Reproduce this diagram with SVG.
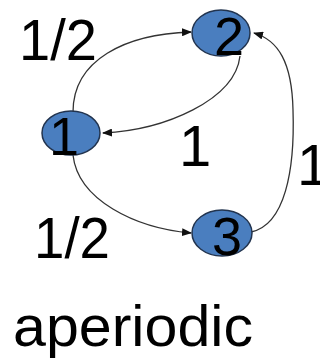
<svg xmlns="http://www.w3.org/2000/svg" width="320" height="361" viewBox="0 0 320 361">
<style>
.node{fill:#4a7ebf;stroke:#22344f;stroke-width:1.5}
.nt{font-family:"Liberation Sans",Arial,sans-serif;font-size:54px;fill:#000}
.lbl{font-family:"Liberation Sans",Arial,sans-serif;font-size:58px;fill:#000}
.edge{fill:none;stroke:#333;stroke-width:1.3;marker-end:url(#arr)}
</style>
<defs>
<marker id="arr" markerWidth="10" markerHeight="8" refX="9" refY="4" orient="auto" markerUnits="userSpaceOnUse">
<path d="M0,0 L10,4 L0,8 Z" fill="#111"/>
</marker>
</defs>
<rect width="320" height="361" fill="#fff"/>
<g id="connectors">
<path class="edge" d="M73,112 C73,60 125,34 191,32"/>
<path class="edge" d="M240,56 C235,100 165,130 103,133"/>
<path class="edge" d="M73,155 C78,200 135,228 191,233"/>
<path class="edge" d="M251,232 C285,225 295,170 293,110 C292,62 278,40 254,33"/>
</g>
<g id="node1">
<ellipse class="node" cx="71" cy="133" rx="29" ry="22"/>
<text class="nt" x="64" y="155" text-anchor="middle">1</text>
</g>
<g id="node2">
<ellipse class="node" cx="221" cy="33" rx="29" ry="23"/>
<text class="nt" x="229" y="55" text-anchor="middle">2</text>
</g>
<g id="node3">
<ellipse class="node" cx="222" cy="233" rx="30" ry="23"/>
<text class="nt" x="227" y="255" text-anchor="middle">3</text>
</g>
<g id="labels">
<text class="lbl" x="19" y="60" textLength="78" lengthAdjust="spacingAndGlyphs">1/2</text>
<text class="lbl" x="179" y="166">1</text>
<text class="lbl" x="297" y="185">1</text>
<text class="lbl" x="34" y="258" textLength="76" lengthAdjust="spacingAndGlyphs">1/2</text>
<text class="lbl" x="13" y="346" textLength="240" lengthAdjust="spacingAndGlyphs">aperiodic</text>
</g>
</svg>
